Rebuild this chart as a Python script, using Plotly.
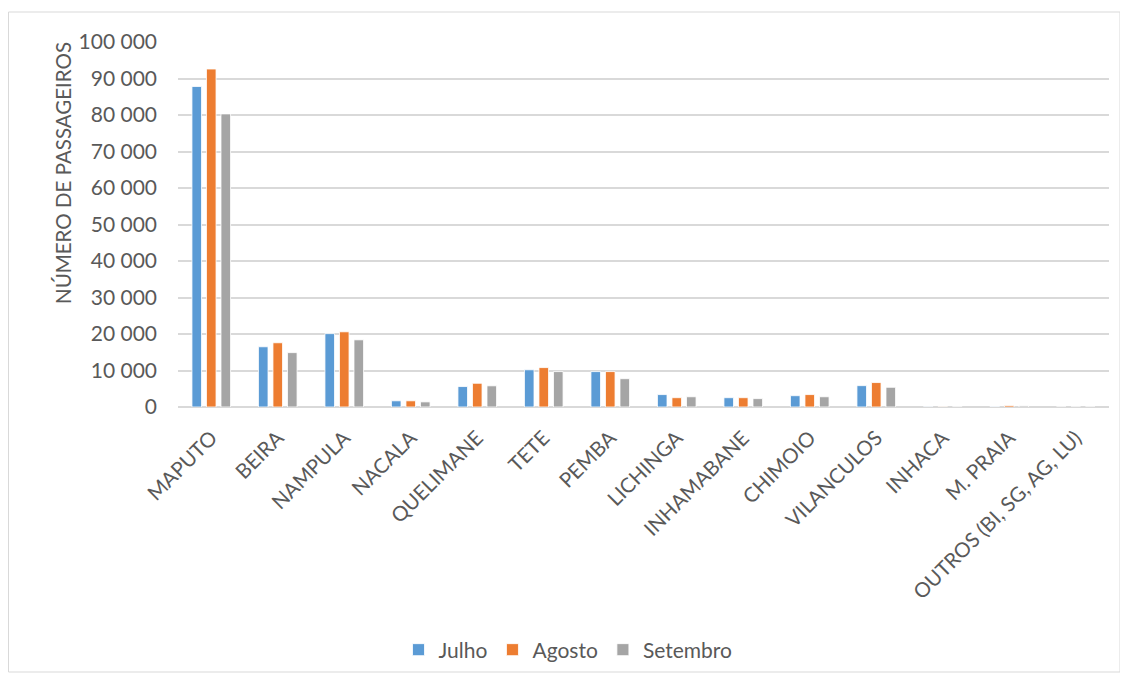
import plotly.graph_objects as go

categories = ["MAPUTO", "BEIRA", "NAMPULA", "NACALA", "QUELIMANE", "TETE", "PEMBA",
              "LICHINGA", "INHAMABANE", "CHIMOIO", "VILANCULOS", "INHACA", "M. PRAIA",
              "OUTROS (BI, SG, AG, LU)"]
julho = [87800, 16500, 20100, 1700, 5600, 10200, 9700, 3400, 2550, 3100, 5850, 50, 100, 0]
agosto = [92600, 17600, 20600, 1700, 6500, 10800, 9700, 2550, 2550, 3400, 6700, 50, 400, 0]
setembro = [80300, 14900, 18400, 1400, 5800, 9700, 7750, 2800, 2300, 2800, 5400, 50, 300, 0]
series_names = ["Julho", "Agosto", "Setembro"]
series_colors = ["#5B9BD5", "#ED7D31", "#A5A5A5"]
y_ticks = list(range(0, 100001, 10000))

FONT = "Lato"
TXT = "#595959"

fig = go.Figure()
for name, vals, col in zip(series_names, [julho, agosto, setembro], series_colors):
    fig.add_trace(go.Bar(
        x=categories, y=vals, name=name,
        marker=dict(color=col, line=dict(color="rgba(255,255,255,0.8)", width=1)),
    ))

W, H = 1120, 672
ml, mr, mt, mb = 170, 19, 34, 273
pw, ph = W - ml - mr, H - mt - mb

def px_x(p):
    return (p - ml) / pw

def px_y(p):
    return (H - mb - p) / ph

fig.update_layout(
    width=W, height=H,
    margin=dict(l=ml, r=mr, t=mt, b=mb, autoexpand=False),
    paper_bgcolor="white", plot_bgcolor="white",
    barmode="group", bargap=0.345, bargroupgap=0.34,
    separators=", ",
    font=dict(family=FONT, size=20, color=TXT),
    showlegend=True,
    legend=dict(orientation="h", xref="container", yref="container",
                x=0.5, xanchor="center", y=(H - 642) / H, yanchor="middle",
                font=dict(size=21, color=TXT), traceorder="normal"),
    xaxis=dict(tickangle=-45, tickfont=dict(size=20.5, color=TXT), showgrid=False,
               showline=False, ticks="", automargin=False, ticklabelstandoff=14),
    yaxis=dict(range=[0, 100000], tickvals=y_ticks, tickformat=",d",
               tickfont=dict(size=21, color=TXT), showgrid=True, gridcolor="#D9D9D9",
               gridwidth=1.5, zeroline=True, zerolinecolor="#D9D9D9", zerolinewidth=2,
               showline=False, ticks="", ticklabelstandoff=20, automargin=False),
    annotations=[dict(text="NÚMERO DE PASSAGEIROS", textangle=-90, showarrow=False,
                      xref="paper", yref="paper", x=px_x(55), y=px_y(165),
                      xanchor="center", yanchor="middle",
                      font=dict(size=20.5, color=TXT, family=FONT))],
    shapes=[dict(type="rect", xref="paper", yref="paper",
                 x0=px_x(0.5), x1=px_x(1112), y0=px_y(664), y1=px_y(4),
                 line=dict(color="#D9D9D9", width=1), fillcolor="rgba(0,0,0,0)",
                 layer="below")],
)

fig.write_html("out.html")
